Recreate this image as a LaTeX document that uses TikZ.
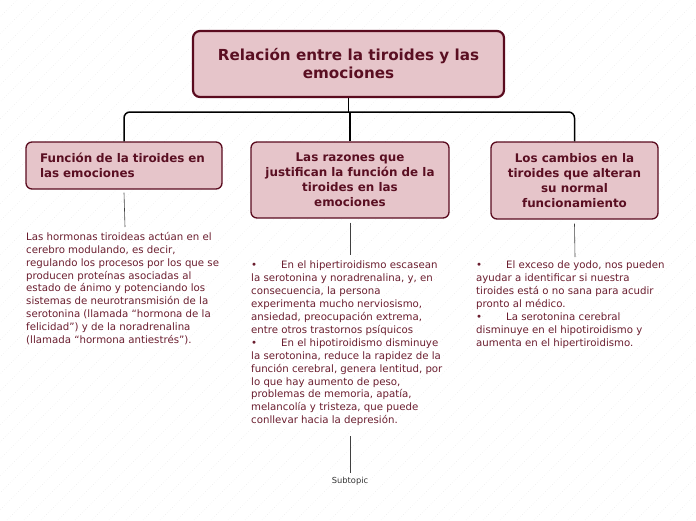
\documentclass[tikz,border=0pt]{standalone}
\usepackage{fontspec}
\setmainfont{DejaVu Sans}
\usepackage{xcolor}
\usepackage{tikz}
\usetikzlibrary{positioning, calc}

\definecolor{boxfill}{HTML}{E6C5CA}
\definecolor{boxline}{HTML}{5A0B1E}
\definecolor{headtext}{HTML}{5A0F22}
\definecolor{bodytext}{HTML}{6A1D2E}
\definecolor{hatch}{HTML}{E8E8E8}

\tikzset{
    topic/.style={draw=boxline, line width=2.2pt, fill=boxfill, rounded corners=7pt,
        text=headtext, font=\bfseries\fontsize{15.2}{18}\selectfont, align=center},
    subtopic/.style={draw=boxline, line width=1.3pt, fill=boxfill, rounded corners=6pt,
        text=headtext, font=\bfseries\fontsize{11.9}{15}\selectfont},
    bodytxt/.style={text=bodytext, font=\fontsize{10.2}{12.9}\selectfont, align=left,
        inner sep=0pt, anchor=north west},
    branch/.style={draw=black, line width=1.5pt, rounded corners=6pt},
    leaf/.style={draw=black!75, line width=0.6pt}
}

\begin{document}
\begin{tikzpicture}[x=1pt, y=-1pt]

    % Page frame and faint diagonal hatching
    \useasboundingbox (0,0) rectangle (696,520);
    \begin{scope}
        \clip (0,0) rectangle (696,520);
        \foreach \hx in {-520,-503,...,700}
            \draw[hatch, line width=0.5pt, dotted] (\hx,520) -- (\hx+520,0);
    \end{scope}

    % Central topic
    \node[topic, minimum width=311, minimum height=66] (root) at (348.5,64)
        {Relación entre la tiroides y las\\emociones};

    % Main topics
    \node[subtopic, text width=168, inner xsep=14pt, align=left, minimum height=47] (funcion) at (124,165.5)
        {Función de la tiroides en\\las emociones};
    \node[subtopic, align=center, minimum width=198, minimum height=76] (razones) at (350,180)
        {Las razones que\\justifican la función de la\\tiroides en las\\emociones};
    \node[subtopic, align=center, minimum width=167, minimum height=77] (cambios) at (574.5,180.5)
        {Los cambios en la\\tiroides que alteran\\su normal\\funcionamiento};

    % Branches from the central topic
    \coordinate (bus) at (349,112);
    \draw[branch] (root.south) -- (root.south |- bus);
    \draw[branch] (funcion.north) |- (bus) -| (cambios.north);
    \draw[branch] (razones.north |- bus) -- (razones.north);

    % Detail texts
    \node[bodytxt] (hormonas) at (26,232)
        {Las hormonas tiroideas actúan en el\\
         cerebro modulando, es decir,\\
         regulando los procesos por los que se\\
         producen proteínas asociadas al\\
         estado de ánimo y potenciando los\\
         sistemas de neurotransmisión de la\\
         serotonina (llamada “hormona de la\\
         felicidad”) y de la noradrenalina\\
         (llamada “hormona antiestrés”).};
    \node[bodytxt] (hiper) at (251,261)
        {\makebox[30pt][l]{•}En el hipertiroidismo escasean\\
         la serotonina y noradrenalina, y, en\\
         consecuencia, la persona\\
         experimenta mucho nerviosismo,\\
         ansiedad, preocupación extrema,\\
         entre otros trastornos psíquicos\\
         \makebox[30pt][l]{•}En el hipotiroidismo disminuye\\
         la serotonina, reduce la rapidez de la\\
         función cerebral, genera lentitud, por\\
         lo que hay aumento de peso,\\
         problemas de memoria, apatía,\\
         melancolía y tristeza, que puede\\
         conllevar hacia la depresión.};
    \node[bodytxt] (yodo) at (476,261)
        {\makebox[30pt][l]{•}El exceso de yodo, nos pueden\\
         ayudar a identificar si nuestra\\
         tiroides está o no sana para acudir\\
         pronto al médico.\\
         \makebox[30pt][l]{•}La serotonina cerebral\\
         disminuye en el hipotiroidismo y\\
         aumenta en el hipertiroidismo.};

    % Leaf connectors
    \coordinate (hormonastop) at (125,227);
    \coordinate (hipertop) at (350,255);
    \coordinate (yodotop) at (575,257);
    \draw[leaf] ([yshift=-3pt]funcion.south) -- (hormonastop);
    \draw[leaf] ([yshift=-4pt]razones.south) -- (hipertop);
    \draw[leaf] ([yshift=-4pt]cambios.south) -- (yodotop);

    % Floating subtopic under the middle text
    \node[text=black!80, font=\fontsize{8.3}{10}\selectfont] (sub) at (350,481) {Subtopic};
    \coordinate (subtop) at (350,436);
    \draw[leaf] (subtop) -- (sub.north);

\end{tikzpicture}
\end{document}
